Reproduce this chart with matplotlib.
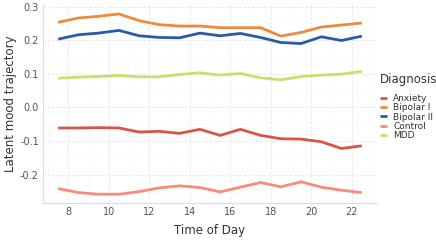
import matplotlib
matplotlib.use("Agg")
import matplotlib.pyplot as plt
from matplotlib.ticker import MultipleLocator

# Hour of day (bin centres)
hours = [7.5, 8.5, 9.5, 10.5, 11.5, 12.5, 13.5, 14.5, 15.5, 16.5, 17.5, 18.5, 19.5, 20.5, 21.5, 22.5]

anxiety = [-0.061, -0.061, -0.060, -0.061, -0.073, -0.071, -0.077, -0.065,
           -0.083, -0.065, -0.083, -0.093, -0.094, -0.102, -0.122, -0.114]
bipolar_1 = [0.253, 0.266, 0.271, 0.278, 0.258, 0.246, 0.242, 0.242,
             0.237, 0.237, 0.237, 0.212, 0.223, 0.239, 0.245, 0.251]
bipolar_2 = [0.203, 0.216, 0.221, 0.229, 0.213, 0.208, 0.207, 0.221,
             0.213, 0.220, 0.208, 0.193, 0.190, 0.210, 0.199, 0.212]
control = [-0.241, -0.253, -0.258, -0.258, -0.250, -0.239, -0.233, -0.238,
           -0.251, -0.237, -0.223, -0.236, -0.221, -0.237, -0.246, -0.253]
mdd = [0.087, 0.090, 0.092, 0.095, 0.091, 0.091, 0.098, 0.103,
       0.096, 0.101, 0.088, 0.082, 0.092, 0.096, 0.099, 0.107]

groups = ["Anxiety", "Bipolar I", "Bipolar II", "Control", "MDD"]
series = [anxiety, bipolar_1, bipolar_2, control, mdd]
colors = ["#d95448", "#ee8a3c", "#2b5ba8", "#f98a7c", "#c4e16a"]

fig = plt.figure(figsize=(4.36, 2.42), dpi=100)
ax = fig.add_axes([43 / 436, 39.5 / 242, 334 / 436, 198 / 242])

for name, vals, col in zip(groups, series, colors):
    ax.plot(hours, vals, color=col, lw=2.0, label=name, solid_capstyle="butt")

ax.set_xlim(6.75, 23.25)
ax.set_ylim(-0.2825, 0.306)
ax.xaxis.set_major_locator(MultipleLocator(2))
ax.xaxis.set_minor_locator(MultipleLocator(1))
ax.yaxis.set_major_locator(MultipleLocator(0.1))
ax.yaxis.set_minor_locator(MultipleLocator(0.05))

ax.grid(which="major", color="#e4e4e4", lw=0.6, ls=(0, (3, 2)))
ax.grid(which="minor", color="#ececec", lw=0.5, ls=(0, (1, 2)))
ax.set_axisbelow(True)

for s in ["top", "right"]:
    ax.spines[s].set_visible(False)
for s in ["left", "bottom"]:
    ax.spines[s].set_color("#dedede")
    ax.spines[s].set_linewidth(0.8)

ax.tick_params(which="both", length=0, labelsize=7, labelcolor="#555555", pad=3)
ax.set_yticks([-0.2, -0.1, 0.0, 0.1, 0.2, 0.3])
ax.set_yticklabels(["-0.2", "-0.1", "0.0", "0.1", "0.2", "0.3"])

ax.set_xlabel("Time of Day", fontsize=8.5, color="#333333", labelpad=5)
ax.set_ylabel("Latent mood trajectory", fontsize=8.5, color="#333333", labelpad=2)

leg = ax.legend(title="Diagnosis", loc="center left", bbox_to_anchor=(1.0, 0.485),
                borderaxespad=0.0, borderpad=0.3,
                frameon=False, fontsize=6.5, title_fontsize=8.5,
                handlelength=0.8, handletextpad=0.7, labelspacing=0.02)
leg._legend_box.align = "left"
leg._legend_box.sep = 6
for t in leg.get_texts():
    t.set_color("#333333")
leg.get_title().set_color("#333333")

fig.savefig("out.png", dpi=100)
